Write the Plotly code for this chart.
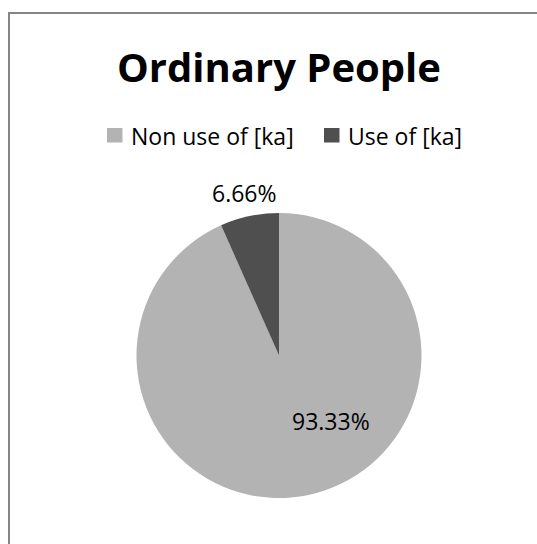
import plotly.graph_objects as go

# Share of speakers using the particle [ka]
labels = ["Non use of [ka]", "Use of [ka]"]
values = [93.33, 6.66]
colors = ["#b3b3b3", "#4f4f4f"]
title_text = "Ordinary People"

W, H = 537, 544
FONT = "'Open Sans', sans-serif"


def px_x(p):
    return p / W


def px_y(p):
    return 1 - p / H


fig = go.Figure()
fig.add_trace(go.Pie(
    labels=labels,
    values=values,
    sort=False,
    direction="clockwise",
    rotation=0,
    marker=dict(colors=colors, line=dict(width=0)),
    textinfo="none",
    hoverinfo="label+value",
    showlegend=False,
    domain=dict(x=[px_x(136.5), px_x(421.5)], y=[px_y(498), px_y(213)]),
))

annotations = [
    dict(text="<b>" + title_text + "</b>", x=px_x(278.5), y=px_y(66),
         xref="paper", yref="paper", showarrow=False,
         font=dict(family=FONT, size=40, color="#000000"),
         xanchor="center", yanchor="middle"),
]

# data labels for each slice
label_pos = [(331, 421), (244, 193)]
for v, (lx, ly) in zip(values, label_pos):
    annotations.append(dict(
        text=f"{v:.2f}%", x=px_x(lx), y=px_y(ly), xref="paper", yref="paper",
        showarrow=False, font=dict(family=FONT, size=23, color="#000000"),
        xanchor="center", yanchor="middle"))

# chart frame: only the top and left edges fall inside the page
shapes = [
    dict(type="line", xref="paper", yref="paper",
         x0=px_x(8), x1=1.5, y0=px_y(13), y1=px_y(13),
         line=dict(color="#868686", width=2)),
    dict(type="line", xref="paper", yref="paper",
         x0=px_x(9), x1=px_x(9), y0=px_y(12), y1=-0.5,
         line=dict(color="#868686", width=2)),
]

# legend: coloured squares with their labels
legend_x = [107, 324]
for lab, col, lx in zip(labels, colors, legend_x):
    shapes.append(dict(type="rect", xref="paper", yref="paper",
                       x0=px_x(lx), x1=px_x(lx + 15.5),
                       y0=px_y(142.5), y1=px_y(128),
                       fillcolor=col, line=dict(width=0)))
    annotations.append(dict(
        text=lab, x=px_x(lx + 22), y=px_y(136), xref="paper", yref="paper",
        showarrow=False, font=dict(family=FONT, size=23, color="#000000"),
        xanchor="left", yanchor="middle"))

fig.update_layout(
    width=W, height=H,
    margin=dict(l=0, r=0, t=0, b=0),
    paper_bgcolor="#ffffff",
    plot_bgcolor="#ffffff",
    annotations=annotations,
    shapes=shapes,
)

fig.write_html(
    "out.html",
    post_script="document.body.style.margin='0';"
                "document.body.style.overflow='hidden';",
)
